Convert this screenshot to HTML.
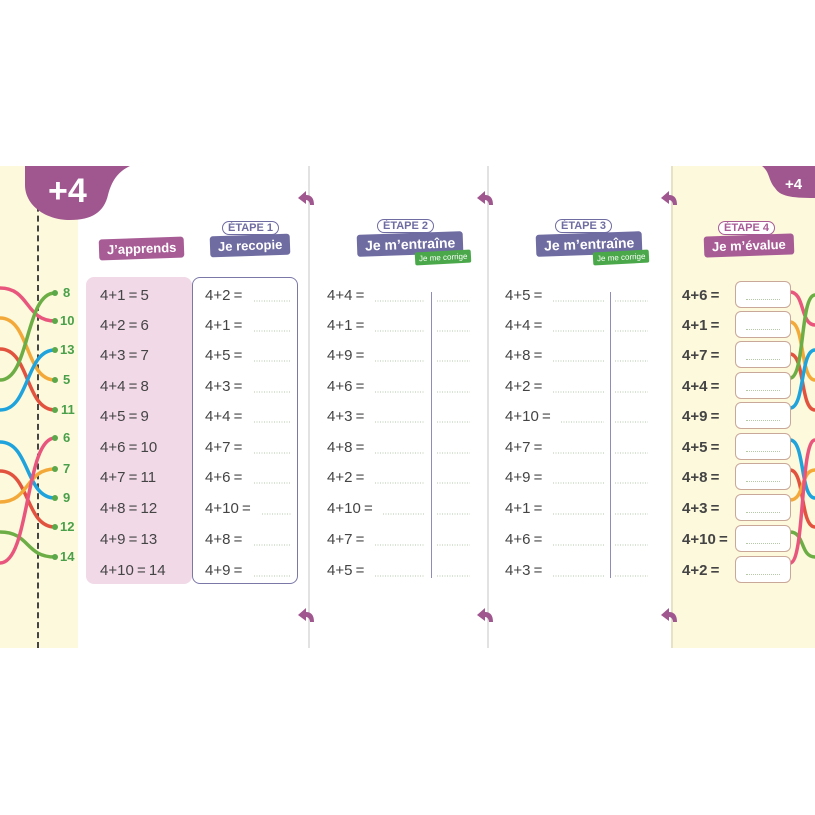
<!DOCTYPE html>
<html><head><meta charset="utf-8"><style>
*{margin:0;padding:0;box-sizing:border-box}
body{width:815px;height:815px;background:#fff;position:relative;overflow:hidden;font-family:"Liberation Sans",sans-serif;color:#444}
.a{position:absolute}
.t{position:absolute;font-size:15px;line-height:18px;white-space:nowrap;word-spacing:-1px}
.b{font-weight:bold}
.bx{position:absolute;width:56px;height:27px;border:1px solid #c9a89a;border-radius:6px;background:#fff}
.bx i{position:absolute;left:10px;right:10px;bottom:7px;border-bottom:1px dotted #b5c9a8}
.lab{position:absolute;color:#fff;font-size:13px;font-weight:bold;padding:3px 8px;border-radius:3px;white-space:nowrap}
.et{position:absolute;font-size:11px;color:#6f6ca2;border:1.5px solid #6f6ca2;border-radius:9px;padding:0 5px;background:#fff;font-weight:bold}
.g{position:absolute;background:#4aa84a;color:#fff;font-size:8px;padding:2px 4px;border-radius:2px;transform:rotate(-3deg)}
.n{position:absolute;color:#4aa04a;font-size:13px;font-weight:bold}
</style></head><body>
<div class="a" style="left:0;top:166px;width:78px;height:482px;background:#fdf9dc"></div>
<div class="a" style="left:672px;top:166px;width:143px;height:482px;background:#fdf9dc"></div>
<div class="a" style="left:308px;top:166px;width:2px;height:482px;background:#e2e2e2"></div>
<div class="a" style="left:487px;top:166px;width:2px;height:482px;background:#e2e2e2"></div>
<div class="a" style="left:671px;top:166px;width:2px;height:482px;background:#e6e2c8"></div>
<div class="a" style="left:37px;top:166px;height:482px;border-left:2px dashed #444"></div>
<svg class="a" style="left:0;top:0" width="815" height="815">
<path d="M25 166 H130 C118 172 112 180 108 195 C104 212 92 220 70 220 C45 220 25 205 25 185 Z" fill="#a0578f"/>
<path d="M815 166 H762 C770 172 768 180 775 188 C780 196 790 198 815 198 Z" fill="#a0578f"/>
<g fill="#a0578f">
<path d="M298 198 l8 -7 v4 c6 0 8 4 8 10 h-4 c0 -3 -2 -5 -4 -5 v4 z"/>
<path d="M477 198 l8 -7 v4 c6 0 8 4 8 10 h-4 c0 -3 -2 -5 -4 -5 v4 z"/>
<path d="M661 198 l8 -7 v4 c6 0 8 4 8 10 h-4 c0 -3 -2 -5 -4 -5 v4 z"/>
<path d="M298 615 l8 -7 v4 c6 0 8 4 8 10 h-4 c0 -3 -2 -5 -4 -5 v4 z"/>
<path d="M477 615 l8 -7 v4 c6 0 8 4 8 10 h-4 c0 -3 -2 -5 -4 -5 v4 z"/>
<path d="M661 615 l8 -7 v4 c6 0 8 4 8 10 h-4 c0 -3 -2 -5 -4 -5 v4 z"/>
</g>
<g fill="none" stroke-width="3.5" stroke-linecap="round">
<path d="M0 288 C30 288 25 321 55 321" stroke="#e8567d"/>
<path d="M0 318 C30 318 25 380 55 380" stroke="#f3a93a"/>
<path d="M0 349 C30 349 25 410 55 410" stroke="#e2533f"/>
<path d="M0 380 C30 380 25 293 55 293" stroke="#6cae45"/>
<path d="M0 410 C30 410 25 350 55 350" stroke="#1fa3dc"/>
<path d="M0 442 C30 442 25 498 55 498" stroke="#1fa3dc"/>
<path d="M0 471 C30 471 25 527 55 527" stroke="#e2533f"/>
<path d="M0 502 C30 502 25 469 55 469" stroke="#f3a93a"/>
<path d="M0 532 C30 532 25 557 55 557" stroke="#6cae45"/>
<path d="M0 563 C30 563 25 438 55 438" stroke="#e8567d"/>
<path d="M790 292 C805 292 800 325 815 325" stroke="#e8567d"/>
<path d="M790 322 C805 322 800 380 815 380" stroke="#f3a93a"/>
<path d="M790 354 C805 354 800 410 815 410" stroke="#e2533f"/>
<path d="M790 378 C805 378 800 295 815 295" stroke="#6cae45"/>
<path d="M790 408 C805 408 800 350 815 350" stroke="#1fa3dc"/>
<path d="M790 440 C805 440 800 498 815 498" stroke="#1fa3dc"/>
<path d="M790 470 C805 470 800 527 815 527" stroke="#e2533f"/>
<path d="M790 500 C805 500 800 470 815 470" stroke="#f3a93a"/>
<path d="M790 532 C805 532 800 557 815 557" stroke="#6cae45"/>
<path d="M790 563 C805 563 800 440 815 440" stroke="#e8567d"/>
</g>
<g fill="#5aa84a"><circle cx="55" cy="293" r="3"/><circle cx="55" cy="321" r="3"/><circle cx="55" cy="350" r="3"/><circle cx="55" cy="380" r="3"/><circle cx="55" cy="410" r="3"/><circle cx="55" cy="438" r="3"/><circle cx="55" cy="469" r="3"/><circle cx="55" cy="498" r="3"/><circle cx="55" cy="527" r="3"/><circle cx="55" cy="557" r="3"/></g>
</svg>
<div class="a b" style="left:48px;top:172px;color:#fff;font-size:34px">+4</div>
<div class="a b" style="left:785px;top:176px;color:#fff;font-size:15px">+4</div>
<div class="n" style="left:63px;top:285px">8</div><div class="n" style="left:60px;top:313px">10</div><div class="n" style="left:60px;top:342px">13</div><div class="n" style="left:63px;top:372px">5</div><div class="n" style="left:61px;top:402px">11</div><div class="n" style="left:63px;top:430px">6</div><div class="n" style="left:63px;top:461px">7</div><div class="n" style="left:63px;top:490px">9</div><div class="n" style="left:60px;top:519px">12</div><div class="n" style="left:60px;top:549px">14</div>
<div class="lab" style="left:99px;top:238px;background:#a85c95;transform:rotate(-2deg)">J’apprends</div>
<div class="et" style="left:222px;top:221px">ÉTAPE 1</div>
<div class="lab" style="left:210px;top:235px;background:#6f6ca2;transform:rotate(-2deg)">Je recopie</div>
<div class="et" style="left:377px;top:219px">ÉTAPE 2</div>
<div class="lab" style="left:357px;top:233px;background:#6f6ca2;transform:rotate(-2deg);font-size:14px">Je m’entraîne</div>
<div class="g" style="left:415px;top:251px">Je me corrige</div>
<div class="et" style="left:555px;top:219px">ÉTAPE 3</div>
<div class="lab" style="left:536px;top:233px;background:#6f6ca2;transform:rotate(-2deg);font-size:14px">Je m’entraîne</div>
<div class="g" style="left:593px;top:251px">Je me corrige</div>
<div class="et" style="left:718px;top:221px;color:#a85c95;border-color:#a85c95">ÉTAPE 4</div>
<div class="lab" style="left:704px;top:235px;background:#a85c95;transform:rotate(-2deg)">Je m’évalue</div>
<div class="a" style="left:86px;top:277px;width:106px;height:307px;background:#f1d9e8;border-radius:8px"></div>
<div class="a" style="left:192px;top:277px;width:106px;height:307px;border:1.5px solid #7b78a8;border-radius:8px"></div>
<div class="t" style="left:100px;top:287px">4+1 = 5</div><div class="t" style="left:100px;top:317px">4+2 = 6</div><div class="t" style="left:100px;top:347px">4+3 = 7</div><div class="t" style="left:100px;top:378px">4+4 = 8</div><div class="t" style="left:100px;top:408px">4+5 = 9</div><div class="t" style="left:100px;top:439px">4+6 = 10</div><div class="t" style="left:100px;top:469px">4+7 = 11</div><div class="t" style="left:100px;top:500px">4+8 = 12</div><div class="t" style="left:100px;top:531px">4+9 = 13</div><div class="t" style="left:100px;top:562px">4+10 = 14</div>
<div class="t" style="left:205px;top:287px">4+2 =</div><div class="t" style="left:205px;top:317px">4+1 =</div><div class="t" style="left:205px;top:347px">4+5 =</div><div class="t" style="left:205px;top:378px">4+3 =</div><div class="t" style="left:205px;top:408px">4+4 =</div><div class="t" style="left:205px;top:439px">4+7 =</div><div class="t" style="left:205px;top:469px">4+6 =</div><div class="t" style="left:205px;top:500px">4+10 =</div><div class="t" style="left:205px;top:531px">4+8 =</div><div class="t" style="left:205px;top:562px">4+9 =</div>
<div class="a" style="left:431px;top:292px;width:1px;height:286px;background:#8f8cb8"></div>
<div class="t" style="left:327px;top:287px">4+4 =</div><div class="t" style="left:327px;top:317px">4+1 =</div><div class="t" style="left:327px;top:347px">4+9 =</div><div class="t" style="left:327px;top:378px">4+6 =</div><div class="t" style="left:327px;top:408px">4+3 =</div><div class="t" style="left:327px;top:439px">4+8 =</div><div class="t" style="left:327px;top:469px">4+2 =</div><div class="t" style="left:327px;top:500px">4+10 =</div><div class="t" style="left:327px;top:531px">4+7 =</div><div class="t" style="left:327px;top:562px">4+5 =</div>
<div class="a" style="left:610px;top:292px;width:1px;height:286px;background:#8f8cb8"></div>
<div class="t" style="left:505px;top:287px">4+5 =</div><div class="t" style="left:505px;top:317px">4+4 =</div><div class="t" style="left:505px;top:347px">4+8 =</div><div class="t" style="left:505px;top:378px">4+2 =</div><div class="t" style="left:505px;top:408px">4+10 =</div><div class="t" style="left:505px;top:439px">4+7 =</div><div class="t" style="left:505px;top:469px">4+9 =</div><div class="t" style="left:505px;top:500px">4+1 =</div><div class="t" style="left:505px;top:531px">4+6 =</div><div class="t" style="left:505px;top:562px">4+3 =</div>
<svg class="a" style="left:0;top:0" width="815" height="815"><g stroke="#b5c9a8" stroke-dasharray="1 1.5" stroke-width="1">
<path d="M254 301h37M254 331h37M254 361h37M254 392h37M254 422h37M254 453h37M254 483h37M262 514h29M254 545h37M254 576h37"/>
<path d="M375 301h50M375 331h50M375 361h50M375 392h50M375 422h50M375 453h50M375 483h50M383 514h42M375 545h50M375 576h50"/>
<path d="M437 301h33M437 331h33M437 361h33M437 392h33M437 422h33M437 453h33M437 483h33M437 514h33M437 545h33M437 576h33"/>
<path d="M553 301h51M553 331h51M553 361h51M553 392h51M561 422h43M553 453h51M553 483h51M553 514h51M553 545h51M553 576h51"/>
<path d="M615 301h33M615 331h33M615 361h33M615 392h33M615 422h33M615 453h33M615 483h33M615 514h33M615 545h33M615 576h33"/>
</g></svg>
<div class="t b" style="left:682px;top:287px">4+6 =</div><div class="t b" style="left:682px;top:317px">4+1 =</div><div class="t b" style="left:682px;top:347px">4+7 =</div><div class="t b" style="left:682px;top:378px">4+4 =</div><div class="t b" style="left:682px;top:408px">4+9 =</div><div class="t b" style="left:682px;top:439px">4+5 =</div><div class="t b" style="left:682px;top:469px">4+8 =</div><div class="t b" style="left:682px;top:500px">4+3 =</div><div class="t b" style="left:682px;top:531px">4+10 =</div><div class="t b" style="left:682px;top:562px">4+2 =</div>
<div class="bx" style="left:735px;top:281px"><i></i></div><div class="bx" style="left:735px;top:311px"><i></i></div><div class="bx" style="left:735px;top:341px"><i></i></div><div class="bx" style="left:735px;top:372px"><i></i></div><div class="bx" style="left:735px;top:402px"><i></i></div><div class="bx" style="left:735px;top:433px"><i></i></div><div class="bx" style="left:735px;top:463px"><i></i></div><div class="bx" style="left:735px;top:494px"><i></i></div><div class="bx" style="left:735px;top:525px"><i></i></div><div class="bx" style="left:735px;top:556px"><i></i></div>
</body></html>
